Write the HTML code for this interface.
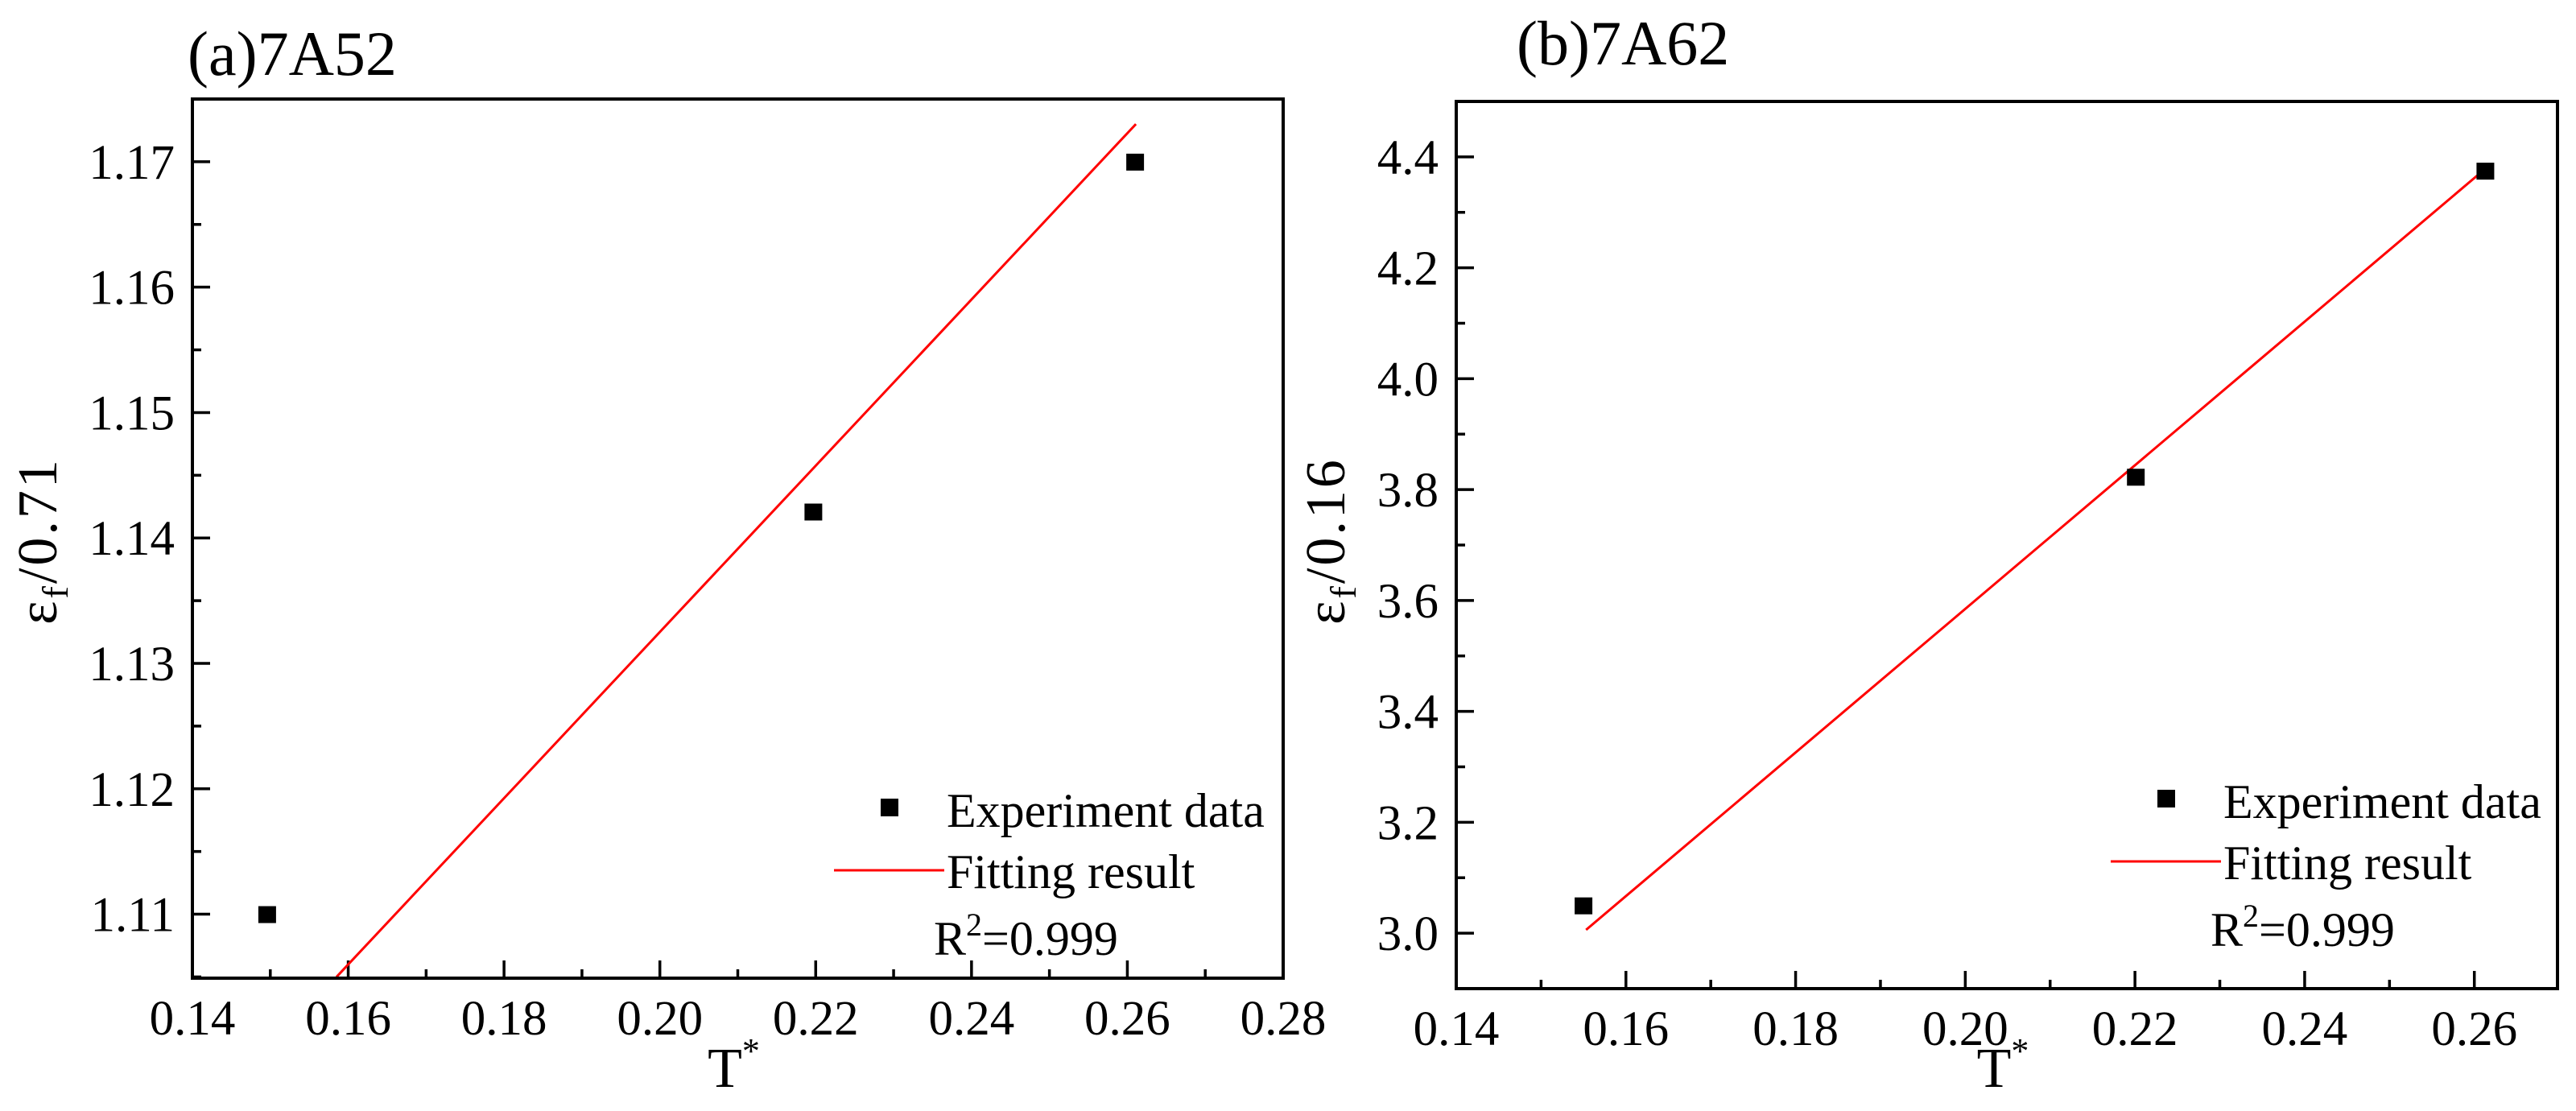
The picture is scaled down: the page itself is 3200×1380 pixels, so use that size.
<!DOCTYPE html>
<html><head><meta charset="utf-8"><style>
html,body{margin:0;padding:0;background:#fff;}
svg{display:block;}
svg text{font-family:"Liberation Serif","Times New Roman","DejaVu Serif",serif;}
</style></head><body>
<svg id="fig" width="3200" height="1380" viewBox="0 0 3200 1380" xmlns="http://www.w3.org/2000/svg"></svg>
<script>
// Panel (a) 7A52
const aX = [0.1496, 0.2197, 0.2610];
const aY = [1.110, 1.1421, 1.170];
const aFitX = [0.1585, 0.2611];
const aFitY = [1.105, 1.173];
const aXTicks = ["0.14","0.16","0.18","0.20","0.22","0.24","0.26","0.28"];
const aYTicks = ["1.11","1.12","1.13","1.14","1.15","1.16","1.17"];
// Panel (b) 7A62
const bX = [0.155, 0.2201, 0.2613];
const bY = [3.05, 3.823, 4.375];
const bFitX = [0.1553, 0.2614];
const bFitY = [3.006, 4.380];
const bXTicks = ["0.14","0.16","0.18","0.20","0.22","0.24","0.26"];
const bYTicks = ["3.0","3.2","3.4","3.6","3.8","4.0","4.2","4.4"];

const NS="http://www.w3.org/2000/svg";
const svg=document.getElementById('fig');
function mk(tag,attrs,parent,text){const e=document.createElementNS(NS,tag);for(const k in attrs)e.setAttribute(k,attrs[k]);if(text!==undefined)e.textContent=text;(parent||svg).appendChild(e);return e;}

function panel(o){
  const g=mk('g',{});
  
  
  const sx=v=>o.L+(v-o.x0)/(o.x1-o.x0)*(o.R-o.L);
  const sy=v=>o.B-(v-o.y0)/(o.y1-o.y0)*(o.B-o.T);
  const t=mk('text',{x:o.titleX,y:o.titleY,'font-size':78},g,o.title);
  
  
  const xs=o.xTicks.map(Number);
  const xstep=xs[1]-xs[0];
  for(let i=0;i<xs.length;i++){
    const X=sx(xs[i]);
    const tk=mk('line',{x1:X,x2:X,y1:o.B,y2:o.B-22,stroke:'#000','stroke-width':3.5},g);
    
    
    const lb=mk('text',{x:X,y:o.B+70,'font-size':61,'text-anchor':'middle'},g,o.xTicks[i]);
    
    
    const m=xs[i]+xstep/2;
    if(m<o.x1-1e-9){const Xm=sx(m);const mt=mk('line',{x1:Xm,x2:Xm,y1:o.B,y2:o.B-11,stroke:'#000','stroke-width':3.5},g);
      
      }
  }
  const ys=o.yTicks.map(Number);
  const ystep=ys[1]-ys[0];
  for(let i=0;i<ys.length;i++){
    const Y=sy(ys[i]);
    const tk=mk('line',{x1:o.L,x2:o.L+22,y1:Y,y2:Y,stroke:'#000','stroke-width':3.5},g);
    
    
    const lb=mk('text',{x:o.L-22,y:Y+21,'font-size':61,'text-anchor':'end'},g,o.yTicks[i]);
    
    
    for(const m of [ys[i]-ystep/2, ys[i]+ystep/2]){
      if(m>o.y0&&m<o.y1&&(i===0||m>ys[i])){const Ym=sy(m);const mt=mk('line',{x1:o.L,x2:o.L+11,y1:Ym,y2:Ym,stroke:'#000','stroke-width':3.5},g);
        
        }
    }
  }
  const fl=mk('line',{x1:sx(o.fitX[0]),y1:sy(o.fitY[0]),x2:sx(o.fitX[1]),y2:sy(o.fitY[1]),stroke:'#ff0000','stroke-width':3},g);
  
  
  for(let i=0;i<o.px.length;i++){
    const r=mk('rect',{x:sx(o.px[i])-11,y:sy(o.py[i])-10,width:22,height:21,fill:'#000'},g);
    
    
  }
  const fr=mk('rect',{x:o.L,y:o.T,width:o.R-o.L,height:o.B-o.T,fill:'none',stroke:'#000','stroke-width':4},g);
  
  
  const xt=mk('text',{x:(o.L+o.R)/2-5,y:1350,'font-size':70,'text-anchor':'middle'},g);
  
  
  mk('tspan',{},xt,'T');mk('tspan',{dy:-30,'font-size':44},xt,'*');
  const yt=mk('text',{x:0,y:0,'font-size':70,'text-anchor':'middle','letter-spacing':'3',transform:`translate(${o.ytX},${o.ytY}) rotate(-90)`},g);
  
  
  mk('tspan',{},yt,'ε');mk('tspan',{dy:14,'font-size':46},yt,'f');mk('tspan',{dy:-14},yt,'/'+o.yDiv);
  const lg=mk('g',{},g);
  
  
  mk('rect',{x:o.lgX-11,y:o.lgY-11,width:22,height:22,fill:'#000'},lg);
  const e1=mk('text',{x:o.lgX+71,y:o.lgY+24,'font-size':60},lg,'Experiment data');
  
  
  mk('line',{x1:o.lgX-69,x2:o.lgX+68,y1:o.lgY+78,y2:o.lgY+78,stroke:'#ff0000','stroke-width':3},lg);
  const e2=mk('text',{x:o.lgX+71,y:o.lgY+100,'font-size':60},lg,'Fitting result');
  
  
  const r2=mk('text',{x:o.lgX+55,y:o.lgY+183,'font-size':60},lg);
  
  
  mk('tspan',{},r2,'R');mk('tspan',{dy:-24,'font-size':40},r2,'2');mk('tspan',{dy:24},r2,'=0.999');
}
panel({id:'a',L:239,R:1594,T:123,B:1215,x0:0.14,x1:0.28,y0:1.1049,y1:1.175,
  xTicks:aXTicks,yTicks:aYTicks,px:aX,py:aY,fitX:aFitX,fitY:aFitY,
  title:'(a)7A52',titleX:233,titleY:93,ytX:70,ytY:672,yDiv:'0.71',lgX:1105,lgY:1003});
panel({id:'b',L:1809,R:3177,T:126,B:1228,x0:0.14,x1:0.2698,y0:2.9,y1:4.5,
  xTicks:bXTicks,yTicks:bYTicks,px:bX,py:bY,fitX:bFitX,fitY:bFitY,
  title:'(b)7A62',titleX:1884,titleY:80,ytX:1670,ytY:672,yDiv:'0.16',lgX:2691,lgY:992});
</script>
</body></html>
